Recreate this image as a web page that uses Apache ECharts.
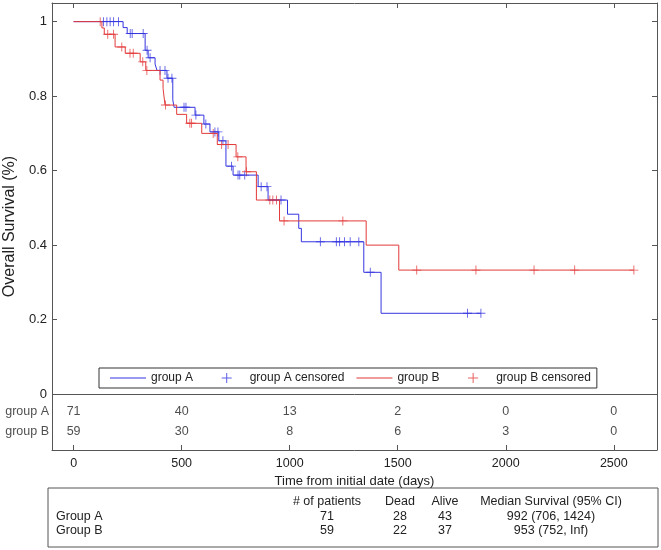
<!DOCTYPE html>
<html><head><meta charset="utf-8">
<script src="https://cdn.jsdelivr.net/npm/echarts@6/dist/echarts.min.js"></script>
<style>html,body{margin:0;padding:0;background:#fff}#c{width:661px;height:550px}</style>
</head><body><div id="c"></div>
<script>
// ---- data ----
const xTicks = [0, 500, 1000, 1500, 2000, 2500];
const yTicks = [0, 0.2, 0.4, 0.6, 0.8, 1];
// Group A: step times (days) and survival after each step
const aTimes = [0, 229, 248, 331, 345, 377, 386, 432, 459, 465, 562, 603, 631, 672, 705, 738, 854, 900, 990, 1042, 1054, 1343, 1423, 1885];
const aSurv  = [1, 0.984, 0.968, 0.923, 0.903, 0.886, 0.869, 0.848, 0.79, 0.77, 0.749, 0.725, 0.704, 0.68, 0.612, 0.588, 0.557, 0.521, 0.483, 0.445, 0.409, 0.327, 0.217, 0.217];
const aCensor = [138, 154, 169, 185, 208, 262, 271, 322, 340, 354, 400, 423, 437, 455, 511, 520, 566, 612, 654, 668, 691, 731, 761, 769, 792, 868, 895, 960, 1142, 1216, 1231, 1254, 1280, 1320, 1373, 1823, 1885];
// Group B
const bTimes = [0, 131, 142, 192, 239, 308, 334, 400, 414, 423, 477, 523, 593, 665, 752, 798, 846, 953, 1354, 1505, 2593];
const bSurv  = [1, 0.983, 0.966, 0.932, 0.915, 0.892, 0.869, 0.843, 0.821, 0.776, 0.751, 0.727, 0.700, 0.670, 0.637, 0.597, 0.521, 0.465, 0.400, 0.333, 0.333];
const bCensor = [123, 158, 185, 223, 261, 276, 320, 339, 425, 538, 546, 646, 685, 715, 760, 800, 908, 922, 939, 974, 1246, 1588, 1862, 2131, 2319, 2593];
// numbers at risk
const riskGroups = ['group A', 'group B'];
const riskA = [71, 40, 13, 2, 0, 0];
const riskB = [59, 30, 8, 6, 3, 0];
// summary table
const tableHeader = ['# of patients', 'Dead', 'Alive', 'Median Survival (95% CI)'];
const tableGroups = ['Group A', 'Group B'];
const tablePatients = [71, 59];
const tableDead = [28, 22];
const tableAlive = [43, 37];
const tableMedian = ['992 (706, 1424)', '953 (752, Inf)'];

// ---- chart ----
const FONT = "'Liberation Sans', Arial, Helvetica, sans-serif";
const BLUE = '#3535e0', RED = '#e33a3a', AX = '#555';
const PLUS = 'path://M0,4.5H10V5.5H0ZM4.5,0H5.5V10H4.5Z';
const LINEICON = 'path://M0,0H36V1H0Z';
function survAt(times, surv, t) {
  let s = surv[0];
  for (let i = 0; i < times.length; i++) { if (times[i] <= t) s = surv[i]; }
  return s;
}
const rowY = [-0.047, -0.101];
const riskData = [];
[riskA, riskB].forEach((arr, r) => arr.forEach((v, i) => riskData.push({ value: [xTicks[i], rowY[r]], label: { formatter: String(v) } })));
const groupLabelData = riskGroups.map((g, r) => ({ value: [-100, rowY[r]], label: { formatter: g } }));

const chart = echarts.init(document.getElementById('c'), null, { renderer: 'canvas' });
const tickCommon = { inside: true, length: 5, lineStyle: { color: AX } };
const plain = v => String(v);
const NB = '\u00a0';
const legendPad = { 'group A': NB.repeat(5), 'group B': NB.repeat(5) };
chart.setOption({
  animation: false,
  textStyle: { fontFamily: FONT },
  grid: { left: 52, top: 3, width: 605, height: 447, containLabel: false, outerBoundsMode: 'none' },
  legend: {
    left: 99, top: 368, orient: 'horizontal', selectedMode: false,
    backgroundColor: '#fff', borderColor: '#333', borderWidth: 1, padding: [4, 6, 4, 11],
    itemGap: 12, itemWidth: 36, itemHeight: 10,
    textStyle: { fontSize: 12, color: '#222', fontFamily: FONT },
    formatter: name => name + (legendPad[name] || ''),
    data: [
      { name: 'group A', icon: LINEICON },
      { name: 'group A censored' },
      { name: 'group B', icon: LINEICON },
      { name: 'group B censored' }
    ]
  },
  xAxis: [{
    type: 'value', min: -100, max: 2700, position: 'bottom',
    axisLine: { onZero: false, lineStyle: { color: AX } },
    axisTick: Object.assign({ customValues: xTicks }, tickCommon),
    axisLabel: { customValues: xTicks, formatter: plain, fontSize: 12.5, color: '#222', margin: 7, fontFamily: FONT },
    splitLine: { show: false },
    name: 'Time from initial date (days)', nameLocation: 'middle', nameGap: 24,
    nameTextStyle: { fontSize: 13, color: '#222', fontFamily: FONT }
  }, {
    type: 'value', min: -100, max: 2700, position: 'top',
    axisLine: { onZero: false, lineStyle: { color: AX } },
    axisTick: Object.assign({ customValues: xTicks }, tickCommon),
    axisLabel: { show: false }, splitLine: { show: false }
  }],
  yAxis: [{
    type: 'value', min: -0.15, max: 1.05, position: 'left',
    axisLine: { show: true, onZero: false, lineStyle: { color: AX } },
    axisTick: Object.assign({ show: true, customValues: yTicks }, tickCommon),
    axisLabel: { customValues: yTicks, formatter: plain, fontSize: 13, color: '#222', margin: 5, fontFamily: FONT },
    splitLine: { show: false },
    name: 'Overall Survival (%)', nameLocation: 'middle', nameGap: 32, nameRotate: 90,
    nameTextStyle: { fontSize: 16, color: '#222', fontFamily: FONT }
  }, {
    type: 'value', min: -0.15, max: 1.05, position: 'right',
    axisLine: { show: true, onZero: false, lineStyle: { color: AX } },
    axisTick: Object.assign({ show: true, customValues: yTicks }, tickCommon),
    axisLabel: { show: false }, splitLine: { show: false }
  }],
  series: [
    {
      name: 'group A', type: 'line', step: 'end', symbol: 'none',
      data: aTimes.map((t, i) => [t, aSurv[i]]),
      lineStyle: { color: BLUE, width: 1 }, itemStyle: { color: BLUE },
      markLine: { silent: true, symbol: 'none', label: { show: false },
        lineStyle: { color: AX, width: 1, type: 'solid' }, data: [{ yAxis: 0 }] }
    },
    {
      name: 'group A censored', type: 'scatter', symbol: PLUS, symbolSize: 9,
      data: aCensor.map(t => [t, survAt(aTimes, aSurv, t)]),
      itemStyle: { color: BLUE }
    },
    {
      name: 'group B', type: 'line', step: 'end', symbol: 'none',
      data: bTimes.map((t, i) => [t, bSurv[i]]),
      lineStyle: { color: RED, width: 1 }, itemStyle: { color: RED }
    },
    {
      name: 'group B censored', type: 'scatter', symbol: PLUS, symbolSize: 9,
      data: bCensor.map(t => [t, survAt(bTimes, bSurv, t)]),
      itemStyle: { color: RED }
    },
    {
      name: 'risk', type: 'scatter', symbolSize: 0, silent: true, data: riskData,
      label: { show: true, position: 'inside', fontSize: 12.5, color: '#222', fontFamily: FONT }
    },
    {
      name: 'riskGroups', type: 'scatter', symbolSize: 0, silent: true, data: groupLabelData, clip: false,
      label: { show: true, position: 'left', distance: 3, fontSize: 12.5, color: '#222', fontFamily: FONT }
    }
  ],
  graphic: (function () {
    const els = [{ type: 'rect', shape: { x: 48, y: 488, width: 610, height: 59 },
      style: { fill: 'none', stroke: AX, lineWidth: 1 } }];
    const colX = [327, 400, 445, 551];
    const font = '12.5px ' + FONT;
    tableHeader.forEach((h, i) => els.push({ type: 'text', style: { text: h, x: colX[i], y: 502, textAlign: 'center', textVerticalAlign: 'middle', font: font, fill: '#222' } }));
    const rowYs = [517, 531];
    tableGroups.forEach((g, r) => {
      const cells = [tablePatients[r], tableDead[r], tableAlive[r], tableMedian[r]];
      els.push({ type: 'text', style: { text: g, x: 56, y: rowYs[r], textAlign: 'left', textVerticalAlign: 'middle', font: font, fill: '#222' } });
      cells.forEach((c, i) => els.push({ type: 'text', style: { text: String(c), x: colX[i], y: rowYs[r], textAlign: 'center', textVerticalAlign: 'middle', font: font, fill: '#222' } }));
    });
    return els;
  })()
});
</script>
</body></html>
